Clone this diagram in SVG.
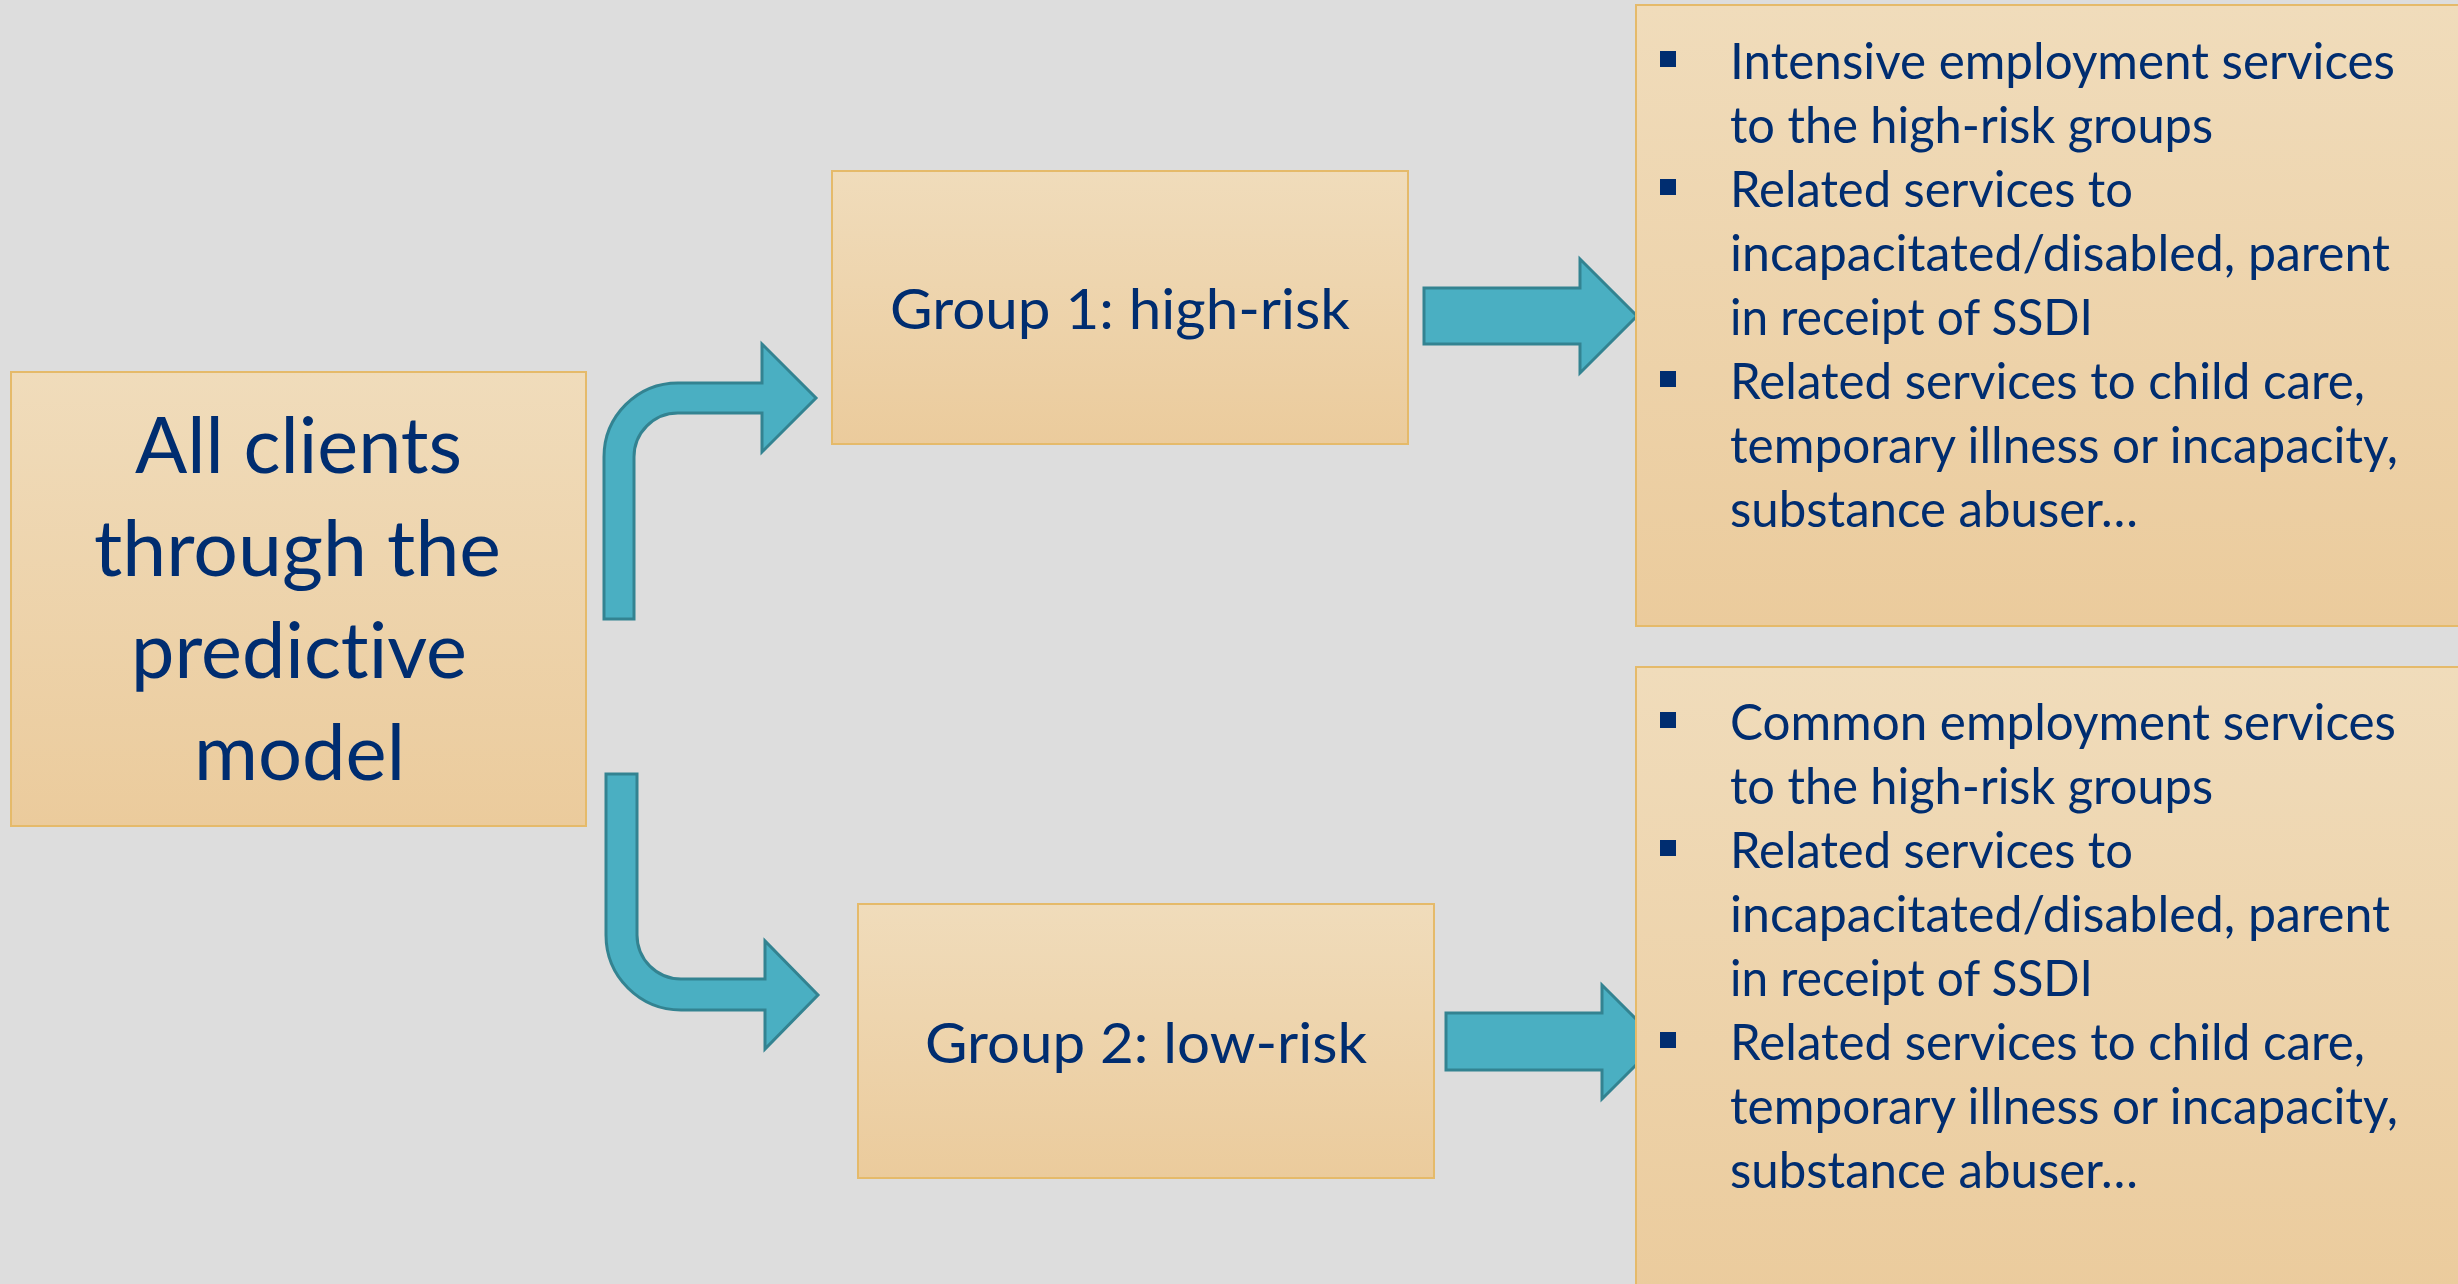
<svg xmlns="http://www.w3.org/2000/svg" width="2458" height="1284" viewBox="0 0 2458 1284">
<defs>
<linearGradient id="boxGrad" x1="0" y1="0" x2="0" y2="1">
<stop offset="0" stop-color="#F0DCBB"/>
<stop offset="1" stop-color="#EBCB9C"/>
</linearGradient>
<style>
.box{fill:url(#boxGrad);stroke:#E5BA6A;stroke-width:2}
.arrow{fill:#4AAFC2;stroke:#338391;stroke-width:3;stroke-linejoin:miter}
.t{font-family:Lato,"Noto Sans","Liberation Sans",sans-serif;fill:#002D70;font-variant-ligatures:none}
.big{font-size:77px}
.mid{font-size:56px}
.list{font-size:50px}
.bullet{fill:#002D70}
</style>
</defs>
<rect x="0" y="0" width="2458" height="1284" fill="#DDDDDD"/>

<g id="connectors">
<path class="arrow" d="M604,619 L604,457 A74,74 0 0 1 678,383 L762,383 L762,344 L816,398 L762,452 L762,413 L678,413 A44,44 0 0 0 634,457 L634,619 Z"/>
<path class="arrow" d="M606,774 L637,774 L637,935 A44,44 0 0 0 681,979 L765,979 L765,941 L818,995 L765,1049 L765,1010 L681,1010 A75,75 0 0 1 606,935 Z"/>
<path class="arrow" d="M1424,288 L1580,288 L1580,259 L1637,316 L1580,373 L1580,344 L1424,344 Z"/>
<path class="arrow" d="M1446,1013 L1602,1013 L1602,985 L1659,1042 L1602,1099 L1602,1070 L1446,1070 Z"/>
</g>

<g id="node-all-clients">
<rect class="box" x="11" y="372" width="575" height="454"/>
<text class="t big" x="135" y="473" textLength="327" lengthAdjust="spacingAndGlyphs">All clients</text>
<text class="t big" x="94" y="576" textLength="407" lengthAdjust="spacingAndGlyphs">through the</text>
<text class="t big" x="131" y="678" textLength="336" lengthAdjust="spacingAndGlyphs">predictive</text>
<text class="t big" x="194" y="780" textLength="211" lengthAdjust="spacingAndGlyphs">model</text>
</g>

<g id="node-group1">
<rect class="box" x="832" y="171" width="576" height="273"/>
<text class="t mid" x="890" y="329" textLength="460" lengthAdjust="spacingAndGlyphs">Group 1: high-risk</text>
</g>

<g id="node-group2">
<rect class="box" x="858" y="904" width="576" height="274"/>
<text class="t mid" x="925" y="1063" textLength="442" lengthAdjust="spacingAndGlyphs">Group 2: low-risk</text>
</g>

<g id="node-services-high">
<rect class="box" x="1636" y="5" width="840" height="621"/>
<rect class="bullet" x="1660" y="51" width="16" height="16"/>
<rect class="bullet" x="1660" y="179" width="16" height="16"/>
<rect class="bullet" x="1660" y="371" width="16" height="16"/>
<text class="t list" x="1730" y="79" textLength="665" lengthAdjust="spacingAndGlyphs">Intensive employment services</text>
<text class="t list" x="1730" y="143" textLength="483" lengthAdjust="spacingAndGlyphs">to the high-risk groups</text>
<text class="t list" x="1730" y="207" textLength="403" lengthAdjust="spacingAndGlyphs">Related services to</text>
<text class="t list" x="1730" y="271" textLength="660" lengthAdjust="spacingAndGlyphs">incapacitated/disabled, parent</text>
<text class="t list" x="1730" y="335" textLength="363" lengthAdjust="spacingAndGlyphs">in receipt of SSDI</text>
<text class="t list" x="1730" y="399" textLength="635" lengthAdjust="spacingAndGlyphs">Related services to child care,</text>
<text class="t list" x="1730" y="463" textLength="668" lengthAdjust="spacingAndGlyphs">temporary illness or incapacity,</text>
<text class="t list" x="1730" y="527" textLength="408" lengthAdjust="spacingAndGlyphs">substance abuser…</text>
</g>

<g id="node-services-low">
<rect class="box" x="1636" y="667" width="840" height="640"/>
<rect class="bullet" x="1660" y="712" width="16" height="16"/>
<rect class="bullet" x="1660" y="840" width="16" height="16"/>
<rect class="bullet" x="1660" y="1032" width="16" height="16"/>
<text class="t list" x="1730" y="740" textLength="666" lengthAdjust="spacingAndGlyphs">Common employment services</text>
<text class="t list" x="1730" y="804" textLength="483" lengthAdjust="spacingAndGlyphs">to the high-risk groups</text>
<text class="t list" x="1730" y="868" textLength="403" lengthAdjust="spacingAndGlyphs">Related services to</text>
<text class="t list" x="1730" y="932" textLength="660" lengthAdjust="spacingAndGlyphs">incapacitated/disabled, parent</text>
<text class="t list" x="1730" y="996" textLength="363" lengthAdjust="spacingAndGlyphs">in receipt of SSDI</text>
<text class="t list" x="1730" y="1060" textLength="635" lengthAdjust="spacingAndGlyphs">Related services to child care,</text>
<text class="t list" x="1730" y="1124" textLength="668" lengthAdjust="spacingAndGlyphs">temporary illness or incapacity,</text>
<text class="t list" x="1730" y="1188" textLength="408" lengthAdjust="spacingAndGlyphs">substance abuser…</text>
</g>
</svg>
